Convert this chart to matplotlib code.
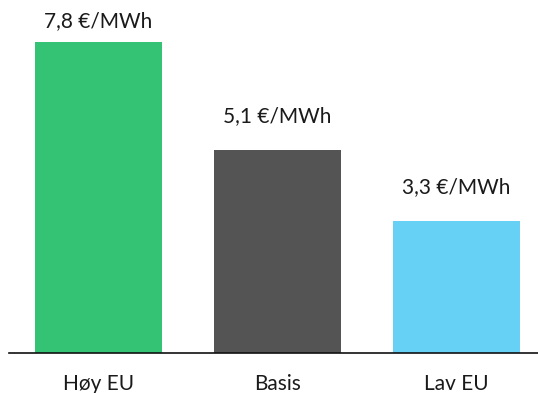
import matplotlib
matplotlib.use("Agg")
import matplotlib.pyplot as plt

categories = ["Høy EU", "Basis", "Lav EU"]
values = [7.8, 5.1, 3.3]
value_labels = ["7,8 €/MWh", "5,1 €/MWh", "3,3 €/MWh"]
colors = ["#34c274", "#545454", "#66d0f5"]

plt.rcParams['font.family'] = ['Lato', 'DejaVu Sans']

fig = plt.figure(figsize=(5.38, 3.93), dpi=100)
ax = fig.add_axes([9/538, (393-353)/393, 529/538, 353/393])
x = range(len(categories))
ax.bar(x, values, width=0.71, color=colors)
ymax = 8.85
ax.set_ylim(0, ymax)
ax.set_xlim(-0.5, 2.455)
for xi, v, lab in zip(x, values, value_labels):
    y = min(v + 0.85, ymax - 0.53)
    ax.text(xi, y, lab, ha='center', va='center', fontsize=15, color='#1a1a1a')
for s in ['top', 'right', 'left']:
    ax.spines[s].set_visible(False)
ax.spines['bottom'].set_color('#111111')
ax.spines['bottom'].set_linewidth(1.2)
ax.set_yticks([])
ax.set_xticks(list(x))
ax.set_xticklabels(categories, fontsize=15, color='#1a1a1a')
ax.tick_params(axis='x', length=0, pad=15)
fig.savefig("out.png", dpi=100)
